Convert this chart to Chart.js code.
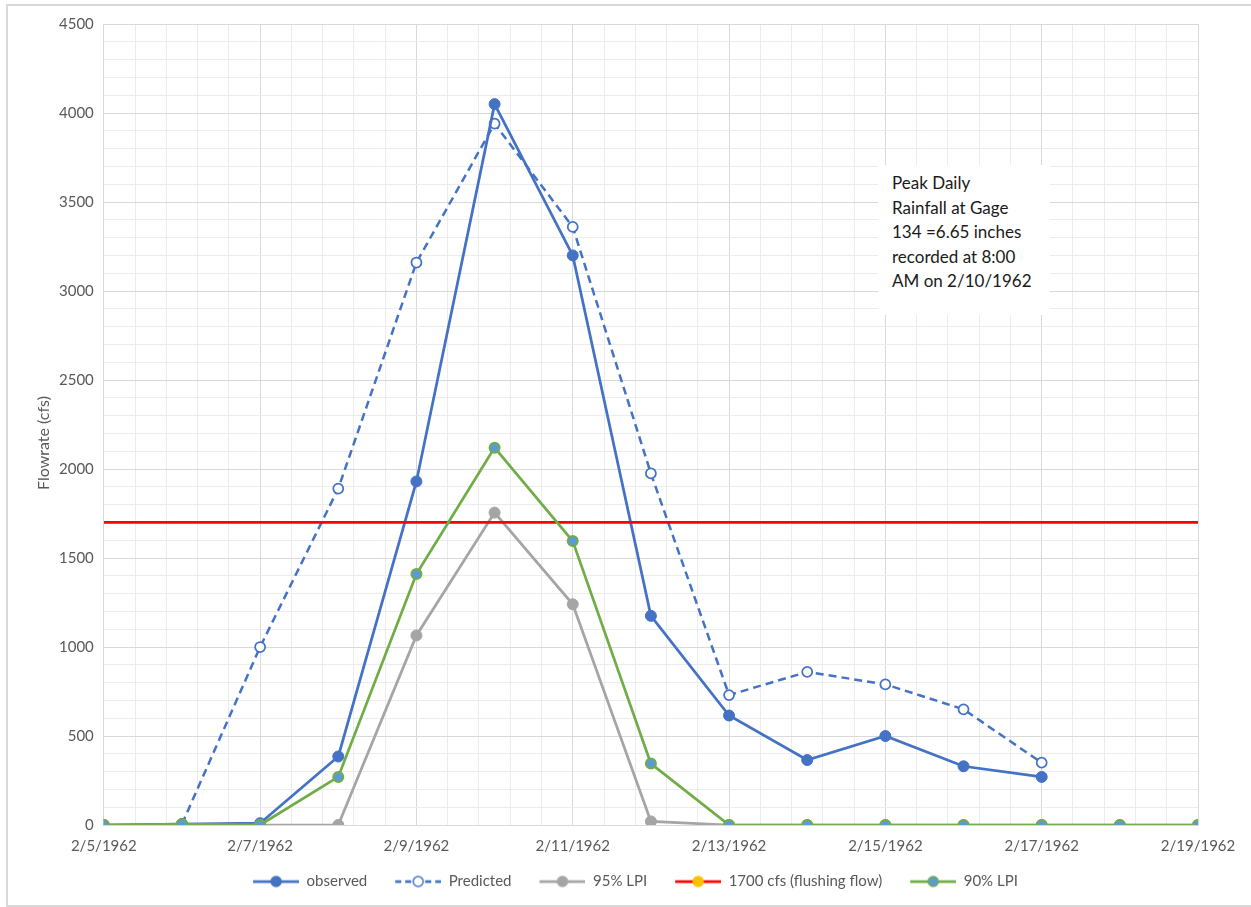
<!DOCTYPE html>
<html>
<head>
<meta charset="utf-8">
<script src="https://cdn.jsdelivr.net/npm/chart.js@4/dist/chart.umd.min.js"></script>
<style>
  html, body { margin: 0; padding: 0; background: #ffffff; overflow: hidden; }
  #wrap { position: relative; width: 1251px; height: 907px; overflow: hidden; }
  #frame { position: absolute; left: 6px; top: 4px; width: 1270px; height: 899px; border: 2px solid #d9d9d9; border-right: none; pointer-events: none; }
  #note { position: absolute; left: 878px; top: 165px; width: 158px; height: 144px; background: #ffffff;
          padding: 6px 0 0 14px; font-family: Lato, 'Open Sans', sans-serif; font-size: 17px; line-height: 24.5px; color: #1a1a1a; }
  #ytitle { position: absolute; left: 43px; top: 443px; transform: translate(-50%, -50%) rotate(-90deg);
            font-family: Lato, 'Open Sans', sans-serif; font-size: 16px; color: #595959; white-space: nowrap; line-height: 20px; }
</style>
</head>
<body>
<div id="wrap">
  <canvas id="c" width="1251" height="907"></canvas>
  <div id="frame"></div>
  <div id="ytitle">Flowrate (cfs)</div>
  <div id="note">Peak Daily<br>Rainfall at Gage<br>134 =6.65 inches<br>recorded at 8:00<br>AM on 2/10/1962</div>
</div>
<script>
// ---- data ----
const dates = ['2/5/1962','2/6/1962','2/7/1962','2/8/1962','2/9/1962','2/10/1962','2/11/1962','2/12/1962',
               '2/13/1962','2/14/1962','2/15/1962','2/16/1962','2/17/1962','2/18/1962','2/19/1962'];
const observed  = [0, 5, 10, 385, 1930, 4050, 3200, 1175, 615, 365, 500, 330, 270, null, null];
const predicted = [null, 5, 1000, 1890, 3160, 3940, 3360, 1975, 730, 860, 790, 650, 350, null, null];
const lpi95     = [0, 0, 0, 0, 1065, 1755, 1240, 20, 0, 0, 0, 0, 0, 0, 0];
const flushing  = [1700, 1700, 1700, 1700, 1700, 1700, 1700, 1700, 1700, 1700, 1700, 1700, 1700, 1700, 1700];
const lpi90     = [0, 5, 0, 270, 1410, 2120, 1595, 345, 0, 0, 0, 0, 0, 0, 0];
const seriesNames = ['observed', 'Predicted', '95% LPI', '1700 cfs (flushing flow)', '90% LPI'];
const yMax = 4500;

const BLUE = '#4472C4', GRAY = '#A5A5A5', RED = '#FF0000', GREEN = '#70AD47', LBLUE = '#5B9BD5', YELLOW = '#FFC000';

function pts(arr) { return arr.map((v, i) => ({ x: i, y: v })); }

function icon(lineColor, dashed, fill, stroke) {
  const c = document.createElement('canvas');
  c.width = 67; c.height = 14;
  const g = c.getContext('2d');
  g.strokeStyle = lineColor; g.lineWidth = 2.75;
  if (dashed) g.setLineDash([6, 4]);
  g.beginPath(); g.moveTo(21, 7); g.lineTo(67, 7); g.stroke();
  g.setLineDash([]);
  g.beginPath(); g.arc(44, 7, 5, 0, Math.PI * 2);
  g.fillStyle = fill; g.fill();
  g.lineWidth = 1.5; g.strokeStyle = stroke; g.stroke();
  return c;
}
const icons = [
  icon(BLUE, false, BLUE, BLUE),
  icon(BLUE, true, '#ffffff', BLUE),
  icon(GRAY, false, GRAY, GRAY),
  icon(RED, false, YELLOW, YELLOW),
  icon(GREEN, false, LBLUE, GREEN)
];

Chart.defaults.font.family = "Lato, 'Open Sans', sans-serif";
Chart.defaults.color = '#595959';

const datasets = [
  { label: seriesNames[0], data: pts(observed), borderColor: BLUE, backgroundColor: BLUE, borderWidth: 2.75,
    pointRadius: 5.5, pointBackgroundColor: BLUE, pointBorderColor: BLUE, pointBorderWidth: 1, order: 4 },
  { label: seriesNames[1], data: pts(predicted), borderColor: BLUE, backgroundColor: '#ffffff', borderWidth: 2.5,
    borderDash: [8, 5], pointRadius: 5, pointBackgroundColor: '#ffffff', pointBorderColor: BLUE, pointBorderWidth: 1.75, order: 5 },
  { label: seriesNames[2], data: pts(lpi95), borderColor: GRAY, backgroundColor: GRAY, borderWidth: 2.75,
    pointRadius: 5.5, pointBackgroundColor: GRAY, pointBorderColor: GRAY, pointBorderWidth: 1, order: 3 },
  { label: seriesNames[3], data: pts(flushing), borderColor: RED, backgroundColor: YELLOW, borderWidth: 2.75,
    pointRadius: 0, pointHoverRadius: 0, order: 2 },
  { label: seriesNames[4], data: pts(lpi90), borderColor: GREEN, backgroundColor: LBLUE, borderWidth: 2.75,
    pointRadius: 5, pointBackgroundColor: LBLUE, pointBorderColor: GREEN, pointBorderWidth: 2, order: 1 }
];

function isMajorX(v) { return Math.abs(v / 2 - Math.round(v / 2)) < 1e-6; }

new Chart(document.getElementById('c'), {
  type: 'line',
  data: { datasets: datasets },
  options: {
    responsive: false,
    animation: false,
    devicePixelRatio: 1,
    layout: { padding: { top: 24, left: 22, right: 23, bottom: 8 } },
    elements: { line: { tension: 0 } },
    plugins: {
      tooltip: { enabled: false },
      legend: {
        position: 'bottom',
        labels: {
          usePointStyle: true,
          pointStyleWidth: 67,
          padding: 7,
          font: { size: 15 },
          color: '#595959',
          generateLabels: (chart) => chart.data.datasets.map((ds, i) => ({
            text: ds.label, pointStyle: icons[i], datasetIndex: i, hidden: false,
            fillStyle: ds.backgroundColor, strokeStyle: ds.borderColor, lineWidth: 0, fontColor: '#595959'
          }))
        }
      }
    },
    scales: {
      x: {
        type: 'linear', min: 0, max: dates.length - 1,
        afterFit: (scale) => { scale.paddingRight = 53; },
        grid: { drawTicks: false, color: (ctx) => (ctx.tick && isMajorX(ctx.tick.value)) ? '#d9d9d9' : '#ececec', lineWidth: 1 },
        border: { color: '#d9d9d9' },
        ticks: {
          stepSize: 0.4, autoSkip: false, maxRotation: 0, minRotation: 0, padding: 12,
          font: { size: 15 }, color: '#595959',
          callback: (v) => isMajorX(v) ? dates[Math.round(v)] : ''
        }
      },
      y: {
        min: 0, max: yMax,
        afterFit: (scale) => { scale.width += 27; },
        title: { display: false },
        grid: { drawTicks: false, color: (ctx) => (ctx.tick && ctx.tick.value % 500 === 0) ? '#d9d9d9' : '#ececec', lineWidth: 1 },
        border: { color: '#d9d9d9' },
        ticks: {
          stepSize: 100, autoSkip: false, padding: 10, font: { size: 15 }, color: '#595959',
          callback: (v) => (v % 500 === 0) ? String(v) : ''
        }
      }
    }
  }
});
</script>
</body>
</html>
